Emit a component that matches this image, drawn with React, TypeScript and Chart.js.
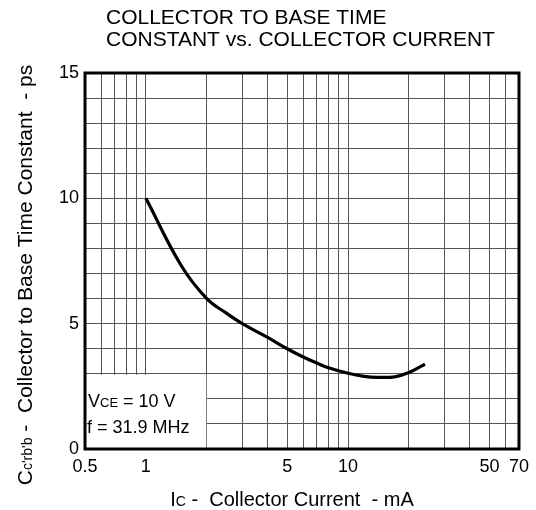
import React, { useEffect, useRef } from "react";
import { Chart, registerables } from "chart.js";

Chart.register(...registerables);

const currentMA = [1, 1.5, 2, 2.5, 3, 4, 5, 6, 7, 8, 10, 12, 14, 17, 20, 24];
const timeConstPs = [10.0, 7.3, 6.0, 5.42, 5.0, 4.45, 4.0, 3.67, 3.43, 3.24, 3.02, 2.9, 2.86, 2.88, 3.05, 3.38];

const xGridValues = [0.5, 0.6, 0.7, 0.8, 0.9, 1, 2, 3, 4, 5, 6, 7, 8, 9, 10, 20, 30, 40, 50, 60, 70];
const xTickLabels = [0.5, 1, 5, 10, 50, 70];
const yTickLabels = [0, 5, 10, 15];

const titleLines = ["COLLECTOR TO BASE TIME", "CONSTANT vs. COLLECTOR CURRENT"];
const FONT = '"Liberation Sans", Arial, Helvetica, sans-serif';

type Seg = { t: string; s: number; dy?: number };

function drawSegs(ctx: CanvasRenderingContext2D, segs: Seg[], x: number, y: number, align: "left" | "center") {
  let total = 0;
  for (const sg of segs) {
    ctx.font = `${sg.s}px ${FONT}`;
    total += ctx.measureText(sg.t).width;
  }
  let cx = align === "center" ? x - total / 2 : x;
  ctx.textAlign = "left";
  ctx.textBaseline = "alphabetic";
  for (const sg of segs) {
    ctx.font = `${sg.s}px ${FONT}`;
    ctx.fillText(sg.t, cx, y + (sg.dy || 0));
    cx += ctx.measureText(sg.t).width;
  }
}

const annotPlugin = {
  id: "annot",
  beforeDatasetsDraw(chart: any) {
    const { ctx, scales } = chart;
    const x = scales.x, y = scales.y;
    const x0 = x.getPixelForValue(0.5);
    const x1 = x.getPixelForValue(2);
    const y0 = y.getPixelForValue(0);
    const y1 = y.getPixelForValue(3);
    ctx.save();
    ctx.fillStyle = "#fff";
    ctx.fillRect(x0 + 1, y1 + 1, x1 - x0 - 1.5, y0 - y1 - 1);
    ctx.fillStyle = "#000";
    drawSegs(ctx, [{ t: "V", s: 18 }, { t: "CE", s: 13 }, { t: " = 10 V", s: 18 }], x0 + 3, y1 + 33, "left");
    drawSegs(ctx, [{ t: "f = 31.9 MHz", s: 18 }], x0 + 2, y1 + 59, "left");
    ctx.restore();
  },
  afterDraw(chart: any) {
    const { ctx, chartArea } = chart;
    ctx.save();
    ctx.strokeStyle = "#000";
    ctx.lineWidth = 3;
    ctx.strokeRect(chartArea.left, chartArea.top, chartArea.right - chartArea.left, chartArea.bottom - chartArea.top);
    ctx.fillStyle = "#000";
    ctx.textAlign = "left";
    ctx.textBaseline = "alphabetic";
    ctx.font = `21px ${FONT}`;
    ctx.fillText(titleLines[0], 106, 24);
    ctx.fillText(titleLines[1], 106, 46);
    // x-axis title
    drawSegs(ctx, [{ t: "I", s: 20 }, { t: "C", s: 14 }, { t: " -  Collector Current  - mA", s: 20 }], 292, 506, "center");
    // y-axis title
    ctx.save();
    ctx.translate(32, 275);
    ctx.rotate(-Math.PI / 2);
    drawSegs(ctx, [{ t: "C", s: 21 }, { t: "c'r", s: 14 }, { t: "b'b", s: 14 }, { t: " -  Collector to Base Time Constant  - ps", s: 21 }], 0, 0, "center");
    ctx.restore();
    ctx.restore();
  },
};

export default function App() {
  const ref = useRef<HTMLCanvasElement>(null);
  useEffect(() => {
    if (!ref.current) return;
    const chart = new Chart(ref.current, {
      type: "line",
      data: {
        datasets: [
          {
            data: currentMA.map((v, i) => ({ x: v, y: timeConstPs[i] })),
            borderColor: "#000",
            borderWidth: 3.2,
            pointRadius: 0,
            tension: 0.4,
            fill: false,
          },
        ],
      },
      options: {
        responsive: false,
        animation: false,
        events: [],
        layout: { padding: { top: 73, right: 16, left: 0, bottom: 0 } },
        plugins: { legend: { display: false }, tooltip: { enabled: false }, title: { display: false } },
        scales: {
          x: {
            type: "logarithmic",
            min: 0.5,
            max: 70,
            afterBuildTicks: (scale: any) => {
              scale.ticks = xGridValues.map((v) => ({ value: v }));
            },
            afterFit: (scale: any) => {
              scale.height = 61;
            },
            ticks: {
              autoSkip: false,
              maxRotation: 0,
              minRotation: 0,
              padding: 7,
              color: "#000",
              font: { family: FONT, size: 18 },
              callback: (v: any) => (xTickLabels.includes(Number(v)) ? String(v) : ""),
            },
            grid: { color: "#555", lineWidth: 1, drawTicks: false },
            border: { display: false },
          },
          y: {
            type: "linear",
            min: 0,
            max: 15,
            afterFit: (scale: any) => {
              scale.width = 85;
            },
            ticks: {
              stepSize: 1,
              autoSkip: false,
              padding: 6,
              color: "#000",
              font: { family: FONT, size: 18 },
              callback: (v: any) => (yTickLabels.includes(Number(v)) ? String(v) : ""),
            },
            grid: { color: "#555", lineWidth: 1, drawTicks: false },
            border: { display: false },
          },
        },
      },
      plugins: [annotPlugin],
    } as any);
    return () => chart.destroy();
  }, []);
  return (
    <div style={{ position: "fixed", left: 0, top: 0, width: 536, height: 510, background: "#fff" }}>
      <canvas ref={ref} width={536} height={510} style={{ display: "block" }} />
    </div>
  );
}
